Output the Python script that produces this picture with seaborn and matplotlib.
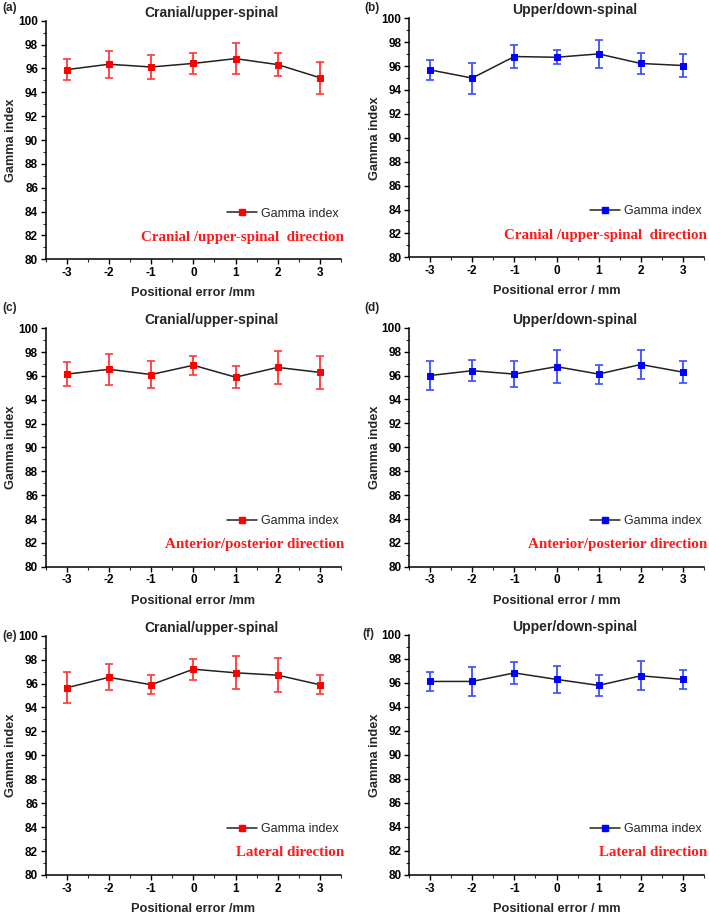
import numpy as np
import pandas as pd
import matplotlib
matplotlib.use("Agg")
import matplotlib.pyplot as plt
import seaborn as sns
from matplotlib.ticker import MultipleLocator
from matplotlib.lines import Line2D

sns.set_theme(style="ticks")
plt.rcParams['font.family'] = ['Liberation Sans', 'DejaVu Sans']

positions = [-3, -2, -1, 0, 1, 2, 3]

gamma_a = [95.9, 96.35, 96.12, 96.42, 96.82, 96.32, 95.22]
err_a = [0.9, 1.15, 1.0, 0.87, 1.3, 0.95, 1.33]
gamma_b = [95.68, 95.0, 96.8, 96.74, 97.02, 96.22, 96.05]
err_b = [0.83, 1.3, 1.0, 0.57, 1.2, 0.9, 0.97]
gamma_c = [96.16, 96.56, 96.12, 96.9, 95.9, 96.72, 96.3]
err_c = [1.0, 1.3, 1.1, 0.8, 0.9, 1.4, 1.4]
gamma_d = [96.0, 96.4, 96.12, 96.74, 96.12, 96.92, 96.28]
err_d = [1.2, 0.9, 1.1, 1.4, 0.8, 1.25, 0.92]
gamma_e = [95.65, 96.52, 95.9, 97.2, 96.9, 96.7, 95.9]
err_e = [1.3, 1.1, 0.8, 0.88, 1.37, 1.4, 0.8]
gamma_f = [96.13, 96.13, 96.84, 96.3, 95.8, 96.6, 96.3]
err_f = [0.8, 1.23, 0.9, 1.1, 0.9, 1.2, 0.8]

panel_labels = ["(a)", "(b)", "(c)", "(d)", "(e)", "(f)"]
titles = ["Cranial/upper-spinal", "Upper/down-spinal"] * 3
xlabels = ["Positional error /mm", "Positional error / mm"] * 3
directions = ["Cranial /upper-spinal  direction", "Cranial /upper-spinal  direction",
              "Anterior/posterior direction", "Anterior/posterior direction",
              "Lateral direction", "Lateral direction"]
series = [(gamma_a, err_a), (gamma_b, err_b), (gamma_c, err_c),
          (gamma_d, err_d), (gamma_e, err_e), (gamma_f, err_f)]
colors = ["#ff0000", "#0000ff"] * 3
errcolors = ["#ff3838", "#3a4dff"] * 3

W, H = 709, 914
fig = plt.figure(figsize=(W / 100, H / 100), dpi=100)

# axes boxes in pixels: left, top, right, bottom
boxes = [(45.7, 20.7, 341, 259.3), (409, 18.3, 704, 257.3),
         (45.7, 328.3, 341, 566.7), (409, 327.7, 704, 566.7),
         (45.7, 635.7, 341, 875), (409, 635, 704, 875)]
label_pos = [(2, 8), (364, 8), (2, 308), (364, 308), (2, 636), (362, 634)]

for i, (box, (vals, errs)) in enumerate(zip(boxes, series)):
    l, t, r, b = box
    ax = fig.add_axes([l / W, 1 - b / H, (r - l) / W, (b - t) / H])
    df = pd.DataFrame({"pos": positions, "gamma": vals, "err": errs})
    ax.errorbar(df["pos"], df["gamma"], yerr=df["err"], fmt="none",
                ecolor=errcolors[i], elinewidth=1.3, capsize=2.8, capthick=1.2, zorder=2)
    sns.lineplot(data=df, x="pos", y="gamma", ax=ax, color="#222222", linewidth=1.1,
                 marker="s", markersize=4.6, markerfacecolor=colors[i],
                 markeredgecolor=colors[i], zorder=3)
    ax.set_xlim(-3.5, 3.5)
    ax.set_ylim(80, 100)
    ax.set_xticks(positions)
    ax.set_xticklabels([str(p) for p in positions])
    ax.set_yticks(np.arange(80, 101, 2))
    ax.xaxis.set_minor_locator(MultipleLocator(0.5))
    ax.yaxis.set_minor_locator(MultipleLocator(1))
    ax.tick_params(axis="both", which="major", direction="out", length=3.5, width=1,
                   labelsize=8.5, pad=2, colors="black")
    ax.tick_params(axis="both", which="minor", direction="out", length=2, width=0.8)
    for lab in ax.get_xticklabels() + ax.get_yticklabels():
        lab.set_fontweight("bold")
    sns.despine(ax=ax)
    for s in ["left", "bottom"]:
        ax.spines[s].set_linewidth(1.1)
        ax.spines[s].set_color("black")
    ax.set_xlabel(xlabels[i], fontsize=9.2, fontweight="bold", labelpad=6)
    ax.set_ylabel("Gamma index", fontsize=9.2, fontweight="bold", labelpad=0.5)
    ax.set_title(titles[i], fontsize=10, fontweight="bold", x=0.56, pad=3)
    handle = Line2D([], [], color="#222222", linewidth=1.1, marker="s", markersize=4,
                    markerfacecolor=colors[i], markeredgecolor=colors[i])
    ax.legend([handle], ["Gamma index"], loc="lower right", bbox_to_anchor=(1.02, 0.13),
              frameon=False, handlelength=2.4, handletextpad=0.3,
              borderpad=0.2, prop={"weight": "normal", "size": 9})
    ax.text(1.01, 0.092, directions[i], transform=ax.transAxes, ha="right", va="center",
            color="#ff1a1a", fontsize=10.8, fontweight="bold",
            family=["Liberation Serif", "DejaVu Serif"])
    fig.text(label_pos[i][0] / W, 1 - label_pos[i][1] / H, panel_labels[i],
             fontsize=8.5, fontweight="bold", va="center", ha="left")

fig.savefig("out.png", dpi=100)
